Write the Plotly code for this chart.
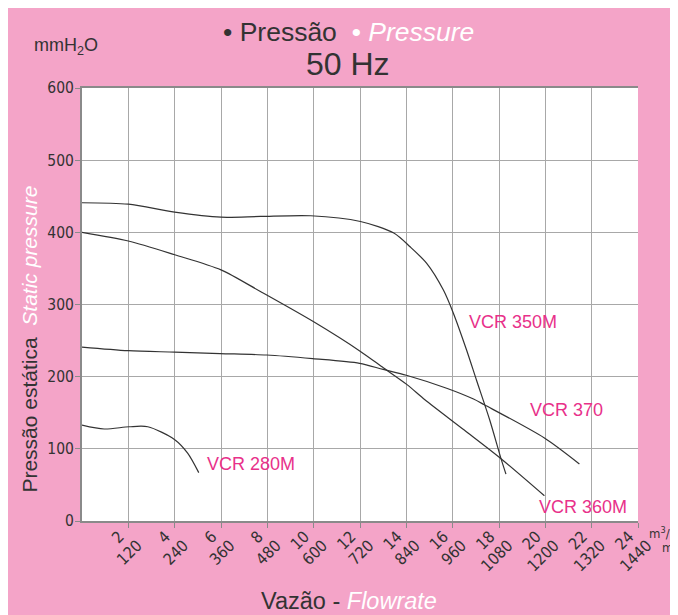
import plotly.graph_objects as go

# ---- data (x: m3/min, y: mmH2O) ----
x_350m = [0, 2.0, 4.0, 6.0, 7.7, 9.87, 12.02, 13.46, 14.16, 14.88, 15.6, 16.03, 16.6, 17.03, 17.6, 18.1, 18.3]
y_350m = [441, 439, 428, 421, 422, 423, 415, 399, 380, 357, 320, 288, 237, 195, 140, 85, 65]

x_360m = [0, 2.0, 4.0, 6.0, 7.7, 10.0, 12.02, 13.02, 14.03, 14.8, 16.5, 18.1, 19.96]
y_360m = [400, 388, 369, 348, 318, 276, 235, 212, 189, 168, 126, 86, 35]

x_370 = [0, 2.0, 4.0, 5.96, 7.97, 9.96, 11.98, 13.0, 14.0, 15.74, 16.9, 17.37, 19.96, 21.47]
y_370 = [241, 236, 234, 232, 230, 225, 218.5, 210, 202, 184, 169, 161, 115, 79]

x_280m = [0, 0.96, 2.04, 2.84, 3.99, 4.56, 5.04]
y_280m = [133, 127.5, 130.6, 130.6, 113, 94, 67]

series = [("VCR 350M", x_350m, y_350m), ("VCR 360M", x_360m, y_360m),
          ("VCR 370", x_370, y_370), ("VCR 280M", x_280m, y_280m)]

labels = [("VCR 350M", 16.6, 276), ("VCR 370", 19.24, 154),
          ("VCR 360M", 19.63, 19), ("VCR 280M", 5.32, 79)]

x_ticks = [2, 4, 6, 8, 10, 12, 14, 16, 18, 20, 22, 24]
x_ticks_h = [120, 240, 360, 480, 600, 720, 840, 960, 1080, 1200, 1320, 1440]
y_ticks = [0, 100, 200, 300, 400, 500, 600]

PINK = "#f4a4c8"
MAG = "#e8318a"
DARK = "#333333"
FONT = "Liberation Sans, Arial, sans-serif"
NARROW = "Liberation Sans Narrow, Arial Narrow, DejaVu Sans Condensed, sans-serif"

fig = go.Figure()
for name, xs, ys in series:
    fig.add_trace(go.Scatter(x=xs, y=ys, mode="lines", name=name,
                             line=dict(color=DARK, width=1.2, shape="spline", smoothing=0.8),
                             showlegend=False, hoverinfo="skip"))
# invisible trace so the second tick row (m3/h) axis is drawn
fig.add_trace(go.Scatter(x=[x_ticks[0]], y=[0], xaxis="x2", mode="markers",
                         marker=dict(opacity=0), showlegend=False, hoverinfo="skip"))

# page offset of the figure in the browser is ~8px; pixel helpers use reference coords
OFF = 8
W, H = 678, 615
PL, PR, PT, PB = 81.5, 638.3, 88, 521  # plot area in reference pixels
L, T = PL - OFF, PT - OFF
R = (W + OFF) - PR
B = (H + OFF) - PB
pw, ph = PR - PL, PB - PT

def px(xp):
    return (xp - PL) / pw

def py(yp):
    return (PB - yp) / ph

ann = []
for txt, xv, yv in labels:
    ann.append(dict(x=xv, y=yv, xref="x", yref="y", text=txt, showarrow=False,
                    xanchor="left", yanchor="middle", font=dict(color=MAG, size=18, family=FONT)))

ann += [
    dict(x=px(348), y=py(32), xref="paper", yref="paper", showarrow=False,
         text="• Pressão  <i><span style='color:white'>• Pressure</span></i>",
         font=dict(size=26.5, color=DARK, family=FONT), xanchor="center", yanchor="middle"),
    dict(x=px(348), y=py(64), xref="paper", yref="paper", showarrow=False,
         text="50 Hz", font=dict(size=32, color=DARK, family=FONT), xanchor="center", yanchor="middle"),
    dict(x=px(31), y=py(47), xref="paper", yref="paper", showarrow=False,
         text="mmH<sub>2</sub>O", font=dict(size=18, color=DARK, family=FONT), xanchor="left", yanchor="middle"),
    dict(x=px(28), y=py(339), xref="paper", yref="paper", showarrow=False, textangle=-90,
         text="Pressão estática  <i><span style='color:white'>Static pressure</span></i>",
         font=dict(size=21, color=DARK, family=FONT), xanchor="center", yanchor="middle"),
    dict(x=px(349), y=py(601), xref="paper", yref="paper", showarrow=False,
         text="Vazão - <i><span style='color:white'>Flowrate</span></i>",
         font=dict(size=23.5, color=DARK, family=FONT), xanchor="center", yanchor="middle"),
    dict(x=px(647), y=py(533), xref="paper", yref="paper", showarrow=False,
         text="m<sup>3</sup>/min", font=dict(size=13, color=DARK, family=NARROW), xanchor="left", yanchor="middle"),
    dict(x=px(660), y=py(547), xref="paper", yref="paper", showarrow=False,
         text="m<sup>3</sup>/h", font=dict(size=13, color=DARK, family=NARROW), xanchor="left", yanchor="middle"),
]

fig.update_layout(
    width=W, height=H,
    margin=dict(l=L, r=R, t=T, b=B, autoexpand=False),
    paper_bgcolor=PINK, plot_bgcolor="white",
    font=dict(family=FONT, color=DARK),
    annotations=ann,
    xaxis=dict(range=[0, 24], tickvals=x_ticks, ticktext=[str(v) for v in x_ticks],
               tickangle=-45, tickfont=dict(size=16, color=DARK, family=NARROW),
               ticklabelshift=-9, ticklabelstandoff=-7,
               showgrid=True, gridcolor="#a8a8a8", gridwidth=1.3,
               showline=True, linecolor="#8a8a8a", linewidth=2, mirror=True,
               ticks="outside", ticklen=5, tickcolor="#8a8a8a", zeroline=False, fixedrange=True),
    xaxis2=dict(range=[0, 24], overlaying="x", anchor="y", side="bottom",
                tickvals=x_ticks, ticktext=[str(v) for v in x_ticks_h],
                tickangle=-45, tickfont=dict(size=16, color=DARK, family=NARROW),
                ticklabelshift=9, ticklabelstandoff=11,
                showgrid=False, showline=False, ticks="", zeroline=False, fixedrange=True),
    yaxis=dict(range=[0, 600], tickvals=y_ticks,
               tickfont=dict(size=15.5, color=DARK, family=NARROW),
               ticklabelstandoff=-2,
               showgrid=True, gridcolor="#a8a8a8", gridwidth=1.3,
               showline=True, linecolor="#8a8a8a", linewidth=2,
               ticks="outside", ticklen=5, tickcolor="#8a8a8a", zeroline=False, fixedrange=True),
)

fig.write_html("out.html")
